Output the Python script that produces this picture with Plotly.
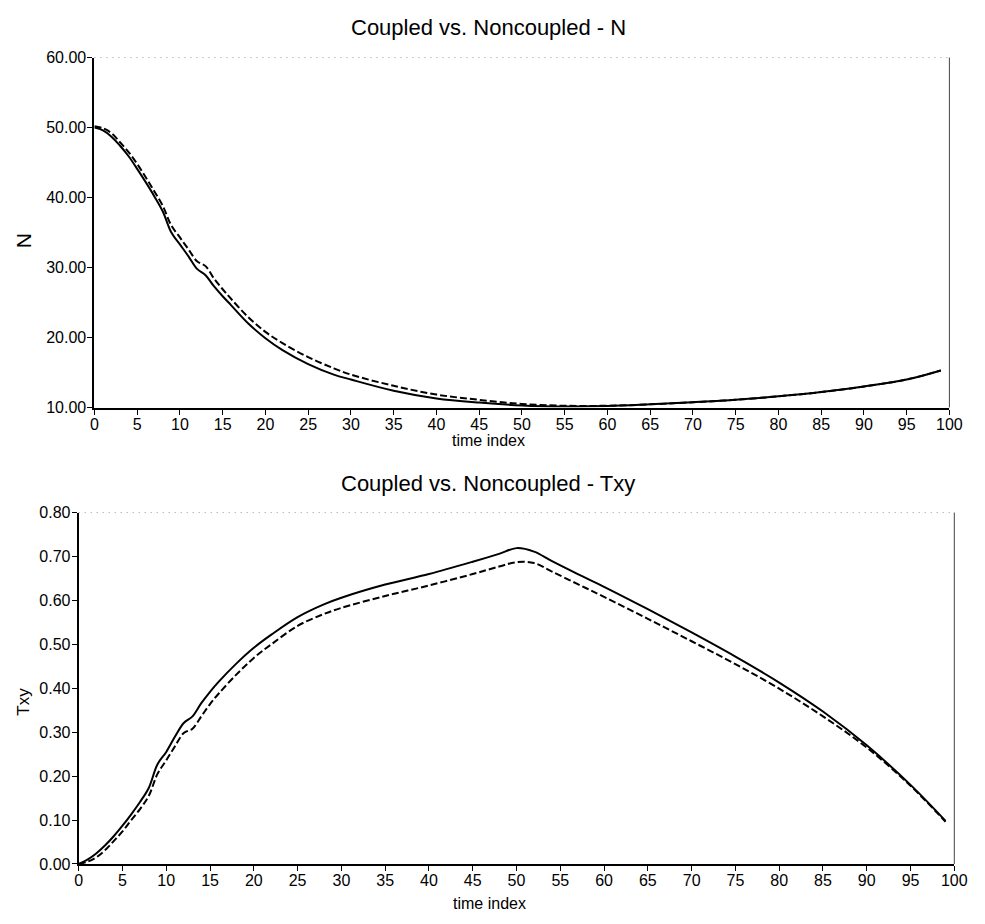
import plotly.graph_objects as go

# ---- N: coupled (solid) vs. noncoupled (dashed) ----
n_time = [0, 1, 2, 3, 4, 5, 6, 7, 8, 9, 10, 11, 12, 13, 14, 15, 16, 18, 20, 22,
          25, 28, 30, 35, 40, 45, 50, 55, 60, 65, 70, 75, 80, 85, 90, 95, 99]
n_coupled = [50.0, 49.6, 48.7, 47.4, 45.9, 44.1, 42.2, 40.2, 38.0, 35.0, 33.3, 31.6,
             29.8, 28.9, 27.3, 25.9, 24.6, 22.0, 19.9, 18.2, 16.2, 14.7, 14.0, 12.4,
             11.3, 10.7, 10.3, 10.15, 10.2, 10.45, 10.75, 11.1, 11.6, 12.2, 13.0, 14.0, 15.3]
n_noncoupled = [50.2, 49.9, 49.2, 47.9, 46.5, 44.8, 42.9, 40.9, 38.8, 36.0, 34.3, 32.6,
                30.9, 30.2, 28.4, 26.9, 25.5, 22.9, 20.8, 19.2, 17.2, 15.6, 14.7, 13.1,
                11.85, 11.1, 10.5, 10.25, 10.25, 10.45, 10.75, 11.1, 11.6, 12.2, 13.0, 14.0, 15.3]

# ---- Txy: coupled (solid) vs. noncoupled (dashed) ----
txy_time = [0, 1, 2, 3, 4, 5, 6, 7, 8, 9, 10, 11, 12, 13, 14, 15, 16, 18, 20, 22,
            25, 28, 30, 35, 40, 45, 48, 50, 52, 54, 57, 60, 65, 70, 75, 80, 85, 90, 95, 99]
txy_coupled = [0.000, 0.010, 0.024, 0.042, 0.063, 0.087, 0.113, 0.141, 0.173, 0.227,
               0.255, 0.290, 0.321, 0.336, 0.366, 0.392, 0.415, 0.456, 0.492, 0.522,
               0.562, 0.591, 0.606, 0.636, 0.660, 0.688, 0.706, 0.719, 0.711, 0.690,
               0.660, 0.631, 0.580, 0.527, 0.472, 0.413, 0.347, 0.270, 0.180, 0.098]
txy_noncoupled = [0.000, 0.005, 0.015, 0.031, 0.052, 0.074, 0.100, 0.125, 0.155, 0.205,
                  0.236, 0.268, 0.298, 0.308, 0.336, 0.364, 0.388, 0.431, 0.469, 0.500,
                  0.542, 0.569, 0.583, 0.610, 0.634, 0.660, 0.677, 0.687, 0.685, 0.666,
                  0.637, 0.608, 0.558, 0.507, 0.455, 0.399, 0.336, 0.265, 0.178, 0.096]

x_ticks = list(range(0, 101, 5))
n_ticks = [10, 20, 30, 40, 50, 60]
txy_ticks = [0.0, 0.1, 0.2, 0.3, 0.4, 0.5, 0.6, 0.7, 0.8]

FONT = "Liberation Sans, Arial, sans-serif"
W, H = 985, 924

# plot-area pixel boxes (left, right, top, bottom)
top_box = (92, 962, 50.5, 407)
bot_box = (76, 967, 514, 872)


def dom_x(b):
    return [b[0] / W, b[1] / W]


def dom_y(b):
    return [1 - b[3] / H, 1 - b[2] / H]


fig = go.Figure()

solid = dict(color="black", width=2)
dashed = dict(color="black", width=2, dash="7px,3px")

fig.add_trace(go.Scatter(x=n_time, y=n_noncoupled, mode="lines", line=dashed,
                         line_shape="spline", name="Noncoupled", xaxis="x", yaxis="y"))
fig.add_trace(go.Scatter(x=n_time, y=n_coupled, mode="lines", line=solid,
                         line_shape="spline", name="Coupled", xaxis="x", yaxis="y"))
fig.add_trace(go.Scatter(x=txy_time, y=txy_noncoupled, mode="lines", line=dashed,
                         line_shape="spline", name="Noncoupled", xaxis="x2", yaxis="y2"))
fig.add_trace(go.Scatter(x=txy_time, y=txy_coupled, mode="lines", line=solid,
                         line_shape="spline", name="Coupled", xaxis="x2", yaxis="y2"))

tick_font = dict(family=FONT, size=16, color="black")

xcommon = dict(range=[0, 100], tickvals=x_ticks, ticks="outside", ticklen=5,
               tickwidth=1, tickcolor="black", showline=True, linecolor="black",
               linewidth=2, showgrid=False, zeroline=False, tickfont=tick_font,
               ticklabelstandoff=-4)
ycommon = dict(ticks="outside", ticklen=5, tickwidth=1, tickcolor="black",
               showline=True, linecolor="black", linewidth=2, showgrid=False,
               zeroline=False, tickfont=tick_font, tickformat=".2f",
               ticklabelstandoff=-2)

fig.update_layout(
    width=W, height=H,
    margin=dict(l=0, r=0, t=0, b=0),
    paper_bgcolor="white", plot_bgcolor="white",
    showlegend=False,
    font=dict(family=FONT, color="black"),
    xaxis=dict(domain=dom_x(top_box), anchor="y", **xcommon),
    yaxis=dict(domain=dom_y(top_box), anchor="x", range=[10, 60], tickvals=n_ticks, **ycommon),
    xaxis2=dict(domain=dom_x(bot_box), anchor="y2", **xcommon),
    yaxis2=dict(domain=dom_y(bot_box), anchor="x2", range=[0, 0.8], tickvals=txy_ticks, **ycommon),
)

# faint top border and thin right border of each panel
for xr, yr in (("x", "y"), ("x2", "y2")):
    fig.add_shape(type="line", xref=f"{xr} domain", yref=f"{yr} domain",
                  x0=0, x1=1, y0=1, y1=1, line=dict(color="#9a9a9a", width=1, dash="1px,5px"))
    fig.add_shape(type="line", xref=f"{xr} domain", yref=f"{yr} domain",
                  x0=1, x1=1, y0=0, y1=1, line=dict(color="#444444", width=1))


def px_y(y):
    return 1 - y / H


def px_x(x):
    return x / W


texts = [
    ("Coupled vs. Noncoupled - N", 492.5, 20, 22, 0),
    ("time index", 493, 441, 16, 0),
    ("Coupled vs. Noncoupled - Txy", 492.5, 484, 22, 0),
    ("time index", 494, 912, 16, 0),
    ("N", 20, 237, 21, -90),
    ("Txy", 20, 707, 17, -90),
]
for t, x, y, s, ang in texts:
    fig.add_annotation(text=t, xref="paper", yref="paper", x=px_x(x), y=px_y(y),
                       xanchor="center", yanchor="middle", showarrow=False,
                       textangle=ang, font=dict(family=FONT, size=s, color="black"))

# the page body carries no margin so the figure fills the window exactly
fig.write_html("out.html", post_script="document.body.style.margin='0';")
